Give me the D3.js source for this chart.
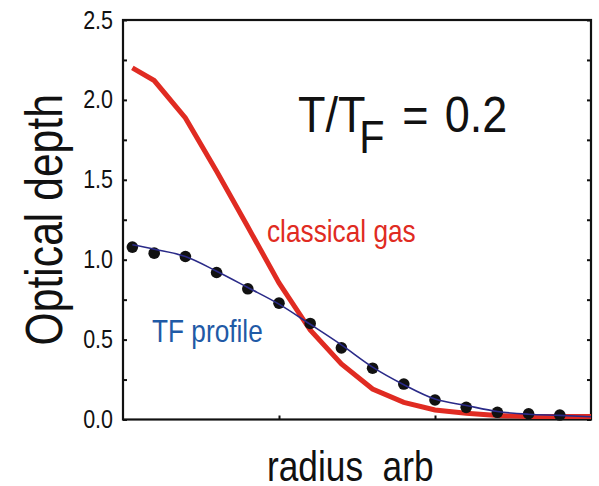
<!DOCTYPE html>
<html>
<head>
<meta charset="utf-8">
<script src="https://d3js.org/d3.v7.min.js"></script>
<style>
  body { margin: 0; background: white; }
  text { font-family: "Liberation Sans", Arial, sans-serif; }
</style>
</head>
<body>
<div id="chart"></div>
<script>
// radius positions of the measured points
var radius = [0.3, 1, 2, 3, 4, 5, 6, 7, 8, 9, 10, 11, 12, 13, 14];
// measured optical depth (black dots)
var measured = [1.079, 1.041, 1.020, 0.920, 0.818, 0.728, 0.601, 0.448, 0.321, 0.222, 0.122, 0.076, 0.045, 0.036, 0.028];

// fitted TF profile (blue line)
var tfRadius = [0.3, 1, 2, 3, 4, 5, 6, 7, 8, 9, 10, 11, 12, 13, 14, 15];
var tfDepth = [1.093, 1.065, 1.020, 0.928, 0.826, 0.722, 0.596, 0.467, 0.328, 0.218, 0.128, 0.088, 0.050, 0.033, 0.026, 0.017];

// classical gas (red line)
var gasRadius = [0.3, 1, 2, 3, 4, 5, 6, 7, 8, 9, 10, 11, 12, 13, 14, 15];
var gasDepth = [2.200, 2.121, 1.887, 1.553, 1.206, 0.855, 0.560, 0.348, 0.191, 0.107, 0.060, 0.039, 0.025, 0.019, 0.018, 0.018];

var yTicks = [0, 0.25, 0.5, 0.75, 1, 1.25, 1.5, 1.75, 2, 2.25, 2.5];
var xTicks = [5, 10];

var margin = { top: 20, right: 8, bottom: 66.5, left: 123 };
var W = 599, H = 486;
var width = W - margin.left - margin.right,
    height = H - margin.top - margin.bottom;

var svg = d3.select("#chart").append("svg")
  .attr("width", W)
  .attr("height", H);

var g = svg.append("g")
  .attr("transform", "translate(" + margin.left + "," + margin.top + ")");

var x = d3.scaleLinear().domain([0, 15]).range([0, width]);
var y = d3.scaleLinear().domain([0, 2.5]).range([height, 0]);

// the original lettering is a condensed face, squeeze the text horizontally
var narrow = 0.82;

// left axis, inward ticks
var yAxis = g.append("g")
  .call(d3.axisLeft(y).tickValues(yTicks).tickSizeInner(-4).tickSizeOuter(0).tickPadding(10)
    .tickFormat(function (d) { return (d * 2) % 1 === 0 ? d3.format(".1f")(d) : ""; }));
yAxis.selectAll("text")
  .style("font-size", "25px")
  .attr("fill", "#111")
  .attr("x", -10 / 0.86)
  .attr("transform", "scale(0.86,1)");

// right axis ticks
g.append("g")
  .attr("transform", "translate(" + width + ",0)")
  .call(d3.axisRight(y).tickValues(yTicks).tickSizeInner(-4).tickSizeOuter(0).tickFormat(""));

// bottom axis ticks
g.append("g")
  .attr("transform", "translate(0," + height + ")")
  .call(d3.axisBottom(x).tickValues(xTicks).tickSizeInner(-4).tickSizeOuter(0).tickFormat(""));

g.selectAll(".domain").remove();
g.selectAll(".tick line").attr("stroke", "#111").attr("stroke-width", 2);

// frame
g.append("rect")
  .attr("width", width)
  .attr("height", height)
  .attr("fill", "none")
  .attr("stroke", "#111")
  .attr("stroke-width", 2.2);

// classical gas curve
var gasLine = d3.line()
  .x(function (d, i) { return x(gasRadius[i]); })
  .y(function (d) { return y(d); });

g.append("path")
  .datum(gasDepth)
  .attr("d", gasLine)
  .attr("fill", "none")
  .attr("stroke", "#e02b22")
  .attr("stroke-width", 5);

// TF profile fit
var tfLine = d3.line()
  .x(function (d, i) { return x(tfRadius[i]); })
  .y(function (d) { return y(d); })
  .curve(d3.curveMonotoneX);

// measured points
g.selectAll(".dot")
  .data(measured)
  .enter().append("circle")
  .attr("class", "dot")
  .attr("cx", function (d, i) { return x(radius[i]); })
  .attr("cy", function (d) { return y(d); })
  .attr("r", 5.8)
  .attr("fill", "#111");

g.append("path")
  .datum(tfDepth)
  .attr("d", tfLine)
  .attr("fill", "none")
  .attr("stroke", "#2a2a88")
  .attr("stroke-width", 1.6);

function label(px, py, size, color, str, sx, extra) {
  return svg.append("text")
    .attr("transform", "translate(" + px + "," + py + ")" + (extra || "") + " scale(" + sx + ",1)")
    .style("font-size", size + "px")
    .attr("fill", color)
    .text(str);
}

label(267, 242, 32, "#e02b22", "classical gas", narrow);
label(152, 341.5, 32, "#1f5aa6", "TF profile", narrow);

var title = label(298, 132, 50, "#111", "", 0.9);
title.append("tspan").text("T/T");
title.append("tspan").attr("dx", -7).attr("dy", 21).style("font-size", "46px").text("F");
title.append("tspan").attr("dx", 6).attr("dy", -21).text(" =");
title.append("tspan").attr("dx", 4).text(" 0.2");

label(267, 480.5, 43, "#111", "radius  arb", narrow).style("white-space", "pre");

label(62, margin.top + height / 2, 52, "#111", "Optical depth", narrow, " rotate(-90)")
  .attr("text-anchor", "middle");
</script>
</body>
</html>
